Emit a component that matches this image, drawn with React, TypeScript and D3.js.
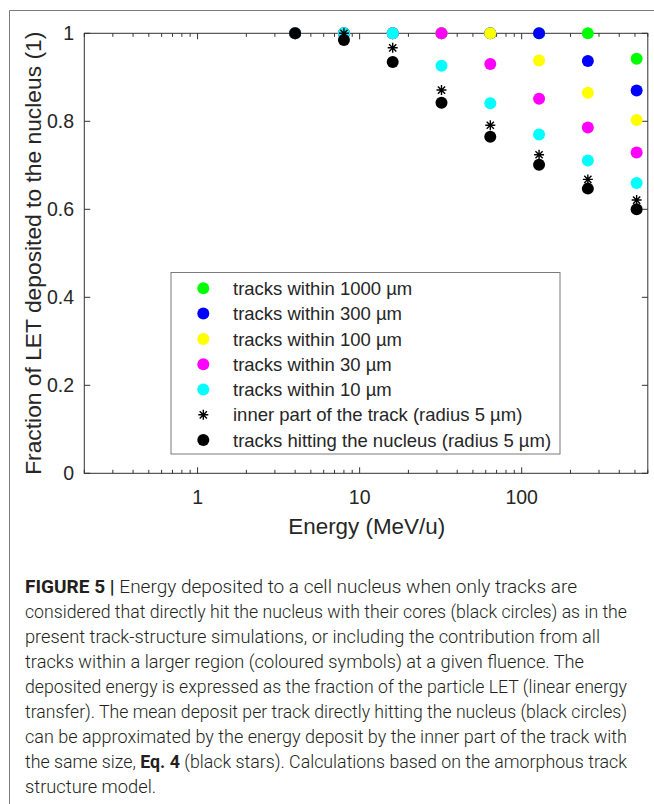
import React from 'react';
import * as d3 from 'd3';

// Energy (MeV/u)
const energies = [4, 8, 16, 32, 64, 128, 256, 512];

// fraction of LET deposited
const within1000 = [1, 1, 1, 1, 1, 1, 1, 0.942];
const within300 = [1, 1, 1, 1, 1, 1, 0.937, 0.87];
const within100 = [1, 1, 1, 1, 1, 0.938, 0.865, 0.803];
const within30 = [1, 1, 1, 1, 0.93, 0.851, 0.786, 0.729];
const within10 = [1, 1, 1, 0.926, 0.841, 0.77, 0.711, 0.66];
const innerPart = [1, 1, 0.967, 0.871, 0.791, 0.724, 0.668, 0.621];
const hitting = [1, 0.985, 0.935, 0.842, 0.765, 0.701, 0.647, 0.6];

const xTicks = [1, 10, 100];
const yTicks = [0, 0.2, 0.4, 0.6, 0.8, 1];

const series = [
  { label: 'tracks within 1000 µm', values: within1000, color: '#00ff00', marker: 'circle' },
  { label: 'tracks within 300 µm', values: within300, color: '#0000ff', marker: 'circle' },
  { label: 'tracks within 100 µm', values: within100, color: '#ffff00', marker: 'circle' },
  { label: 'tracks within 30 µm', values: within30, color: '#ff00ff', marker: 'circle' },
  { label: 'tracks within 10 µm', values: within10, color: '#00ffff', marker: 'circle' },
  { label: 'inner part of the track (radius 5 µm)', values: innerPart, color: '#000000', marker: 'star' },
  { label: 'tracks hitting the nucleus (radius 5 µm)', values: hitting, color: '#000000', marker: 'circle' },
];

const caption: { parts: { t: string; b?: boolean }[]; w?: number }[] = [
  { parts: [{ t: 'FIGURE 5 | ', b: true }, { t: 'Energy deposited to a cell nucleus when only tracks are' }], w: 552 },
  { parts: [{ t: 'considered that directly hit the nucleus with their cores (black circles) as in the' }], w: 602 },
  { parts: [{ t: 'present track-structure simulations, or including the contribution from all' }], w: 575 },
  { parts: [{ t: 'tracks within a larger region (coloured symbols) at a given fluence. The' }], w: 559 },
  { parts: [{ t: 'deposited energy is expressed as the fraction of the particle LET (linear energy' }], w: 602 },
  { parts: [{ t: 'transfer). The mean deposit per track directly hitting the nucleus (black circles)' }], w: 602 },
  { parts: [{ t: 'can be approximated by the energy deposit by the inner part of the track with' }], w: 602 },
  {
    parts: [
      { t: 'the same size, ' },
      { t: 'Eq. 4', b: true },
      { t: ' (black stars). Calculations based on the amorphous track' },
    ],
    w: 602,
  },
  { parts: [{ t: 'structure model.' }] },
];

const W = 654;
const H = 804;
const plot = { left: 84.3, right: 647.8, top: 33.3, bottom: 473.3 };
const axisColor = '#333333';
const font = '"Liberation Sans", Arial, Helvetica, sans-serif';

const starPath = (cx: number, cy: number, s = 5) => {
  const d = s * 0.72;
  return `M${cx - s},${cy}H${cx + s}M${cx},${cy - s}V${cy + s}` +
    `M${cx - d},${cy - d}L${cx + d},${cy + d}M${cx - d},${cy + d}L${cx + d},${cy - d}`;
};

const Marker = ({ type, x, y, color }: { type: string; x: number; y: number; color: string }) =>
  type === 'star'
    ? <path d={starPath(x, y)} stroke={color} strokeWidth={1.4} fill="none" />
    : <circle cx={x} cy={y} r={6} fill={color} />;

export default function App() {
  const x = d3.scaleLog().domain([0.2, 600]).range([plot.left, plot.right]);
  const y = d3.scaleLinear().domain([0, 1]).range([plot.bottom, plot.top]);

  // minor ticks of the log axis (2..9 of every decade inside the domain)
  const minor = x.ticks().filter(t => !xTicks.includes(t));

  const legend = { x: 171, y: 272.5, w: 389, h: 181.5, row0: 288.3, step: 25.3 };

  return (
    <svg width={W} height={H} style={{ position: 'absolute', left: 0, top: 0, background: '#fff' }}
      fontFamily={font}>
      <rect width={W} height={H} fill="#fff" />
      {/* outer frame of the figure panel */}
      <path d={`M9.5,${H}V10.5H${W}`} fill="none" stroke="#7a7a7a" strokeWidth={1} />

      {/* axes box */}
      <rect x={plot.left} y={plot.top} width={plot.right - plot.left} height={plot.bottom - plot.top}
        fill="none" stroke={axisColor} strokeWidth={1} />

      {/* x ticks, bottom and top */}
      {xTicks.map(t => (
        <g key={'xt' + t}>
          <line x1={x(t)} x2={x(t)} y1={plot.bottom} y2={plot.bottom - 6} stroke={axisColor} />
          <line x1={x(t)} x2={x(t)} y1={plot.top} y2={plot.top + 6} stroke={axisColor} />
          <text x={x(t)} y={504} textAnchor="middle" fontSize={19.5} fill="#262626">{t}</text>
        </g>
      ))}
      {minor.map(t => (
        <g key={'xm' + t}>
          <line x1={x(t)} x2={x(t)} y1={plot.bottom} y2={plot.bottom - 3.5} stroke={axisColor} />
          <line x1={x(t)} x2={x(t)} y1={plot.top} y2={plot.top + 3.5} stroke={axisColor} />
        </g>
      ))}

      {/* y ticks, left and right */}
      {yTicks.map(t => (
        <g key={'yt' + t}>
          <line x1={plot.left} x2={plot.left + 6} y1={y(t)} y2={y(t)} stroke={axisColor} />
          <line x1={plot.right} x2={plot.right - 6} y1={y(t)} y2={y(t)} stroke={axisColor} />
          <text x={74} y={y(t)} dy="0.35em" textAnchor="end" fontSize={19.5} fill="#262626">
            {d3.format('~g')(t)}
          </text>
        </g>
      ))}

      <text x={366.7} y={534} textAnchor="middle" fontSize={22.4} fill="#262626">Energy (MeV/u)</text>
      <text transform={`translate(41,${(plot.top + plot.bottom) / 2}) rotate(-90)`} textAnchor="middle"
        fontSize={22.8} fill="#262626">
        Fraction of LET deposited to the nucleus (1)
      </text>

      {/* data */}
      {series.map(s => (
        <g key={s.label}>
          {s.values.map((v, i) => (
            <Marker key={i} type={s.marker} x={x(energies[i])} y={y(v)} color={s.color} />
          ))}
        </g>
      ))}

      {/* legend */}
      <rect x={legend.x} y={legend.y} width={legend.w} height={legend.h} fill="#fff" stroke="#7a7a7a" />
      {series.map((s, i) => {
        const cy = legend.row0 + i * legend.step;
        return (
          <g key={'lg' + i}>
            <Marker type={s.marker} x={203.3} y={cy} color={s.color} />
            <text x={233} y={cy} dy="0.36em" fontSize={18.5} fill="#262626">{s.label}</text>
          </g>
        );
      })}

      {/* caption */}
      <g fontFamily='Roboto, "Liberation Sans", Arial, sans-serif' fontWeight={300} fill="#231f20">
        {caption.map((line, i) => (
          <text key={'c' + i} x={25} y={593.3 + i * 25} fontSize={18.3}
            textLength={line.w} lengthAdjust={line.w ? 'spacingAndGlyphs' : undefined}>
            {line.parts.map((p, j) => (
              <tspan key={j} fontWeight={p.b ? 700 : 300}>{p.t}</tspan>
            ))}
          </text>
        ))}
      </g>
    </svg>
  );
}
